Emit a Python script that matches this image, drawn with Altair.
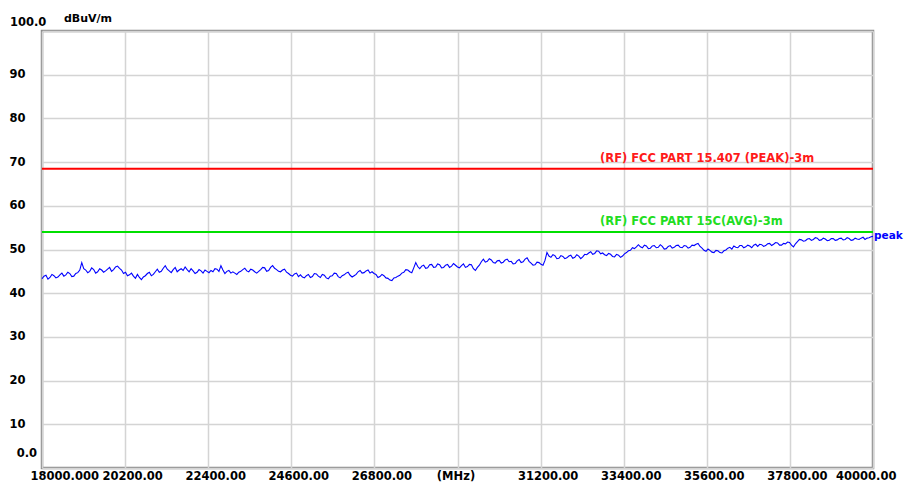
import altair as alt
import pandas as pd
import numpy as np

FREQ_START = 18000.0
FREQ_STOP = 40000.0

LEVELS = [
    43.3, 43.9, 44.1, 43.2, 43.6, 44.3, 44.0, 43.5, 43.7, 44.2, 44.6, 43.9, 44.2, 44.8, 44.5, 43.8, 43.9, 44.5, 44.7, 45.3,
    47.0, 45.6, 45.3, 44.7, 45.0, 45.8, 45.4, 44.6, 44.9, 45.6, 45.3, 44.8, 45.1, 45.5, 45.9, 45.0, 45.4, 46.0, 46.2, 45.7,
    45.3, 44.5, 44.8, 44.0, 44.2, 44.6, 43.9, 43.4, 44.3, 43.6, 43.1, 43.7, 44.0, 44.5, 44.8, 44.0, 44.3, 44.9, 45.5, 44.8,
    45.0, 45.7, 46.3, 45.5, 45.1, 44.7, 45.4, 45.9, 44.9, 45.3, 45.6, 45.2, 46.0, 45.4, 44.9, 45.6, 45.1, 44.5, 44.8, 45.4,
    45.1, 44.6, 45.3, 45.0, 44.7, 45.2, 44.9, 45.6, 45.5, 45.0, 46.3, 45.3, 44.5, 45.0, 45.2, 44.6, 44.9, 44.6, 44.3, 44.8,
    45.0, 45.4, 45.7, 45.1, 44.9, 45.5, 45.3, 44.9, 44.6, 45.0, 45.4, 45.9, 45.8, 45.0, 45.2, 45.9, 46.3, 45.7, 45.4, 45.0,
    44.9, 45.3, 45.5, 44.8, 44.5, 44.1, 43.9, 44.4, 44.6, 43.8, 44.2, 43.7, 43.5, 44.0, 44.3, 43.6, 43.8, 44.5, 44.4, 43.9,
    43.6, 44.3, 44.1, 43.5, 43.3, 43.9, 44.0, 44.6, 44.5, 43.8, 43.5, 44.0, 44.2, 44.6, 44.8, 44.1, 43.7, 44.0, 44.3, 44.9,
    45.2, 44.6, 44.7, 45.1, 45.3, 44.6, 44.9, 44.5, 44.3, 43.6, 43.8, 44.3, 44.0, 43.5, 43.4, 43.0, 42.9, 43.5, 43.6, 43.9,
    44.1, 44.6, 44.8, 45.4, 45.3, 44.9, 44.7, 45.8, 47.0, 46.1, 45.6, 46.2, 46.4, 45.7, 45.8, 46.5, 46.6, 45.9, 46.0, 46.7,
    46.5, 45.8, 45.9, 46.4, 46.6, 45.9, 46.2, 46.8, 46.4, 46.0, 45.8, 46.3, 46.7, 45.9, 46.1, 46.6, 46.5, 45.6, 45.2, 45.9,
    46.4, 47.2, 47.8, 47.1, 47.3, 47.9, 47.6, 47.0, 46.9, 47.4, 47.5, 46.9, 47.1, 47.6, 47.8, 47.2, 47.3, 46.7, 46.8, 47.4,
    47.7, 47.0, 47.2, 47.8, 48.1, 47.3, 46.9, 46.4, 46.5, 47.1, 47.0, 46.6, 46.4, 47.5, 49.3, 48.5, 48.2, 48.8, 48.6, 47.9,
    48.0, 48.6, 48.4, 47.9, 48.1, 48.5, 48.7, 48.0, 48.2, 48.8, 48.5, 47.9, 48.3, 48.9, 48.8, 49.2, 49.5, 48.9, 49.1, 49.7,
    49.6, 49.0, 49.2, 48.8, 48.6, 49.1, 48.9, 48.4, 48.3, 48.9, 48.7, 48.2, 48.5, 49.0, 49.3, 49.7, 49.8, 50.4, 50.2, 50.6,
    51.1, 50.6, 50.4, 51.0, 50.8, 50.2, 50.3, 50.8, 50.9, 50.4, 50.5, 51.1, 50.7, 50.1, 50.2, 50.7, 50.9, 50.3, 50.5, 50.9,
    51.0, 50.5, 50.4, 50.9, 50.8, 50.3, 50.5, 51.0, 50.9, 51.2, 51.4, 50.7, 50.3, 49.8, 49.6, 50.1, 49.8, 49.4, 49.3, 49.8,
    49.7, 49.3, 49.2, 49.7, 49.9, 50.3, 50.5, 50.1, 50.8, 50.5, 50.4, 50.9, 50.9, 50.4, 50.6, 51.0, 50.8, 50.4, 51.0, 51.2,
    50.7, 51.2, 51.1, 50.7, 50.9, 51.3, 51.4, 50.9, 51.2, 51.6, 51.5, 51.0, 51.0, 51.4, 51.3, 51.7, 51.6, 51.0, 50.6, 51.3,
    51.8, 52.3, 52.2, 51.9, 52.0, 52.4, 52.5, 52.1, 52.3, 52.7, 52.6, 52.1, 52.2, 52.6, 52.4, 52.0, 52.1, 52.5, 52.5, 52.1,
    52.2, 52.5, 52.6, 52.2, 52.3, 52.7, 52.5, 52.1, 52.2, 52.6, 52.4, 52.3, 52.6, 52.8, 52.3, 52.6, 52.7, 52.9, 53.0,
]

LIMIT_NAMES = ["(RF) FCC PART 15.407 (PEAK)-3m", "(RF) FCC PART 15C(AVG)-3m"]
LIMIT_VALUES = [68.5, 54.0]
LIMIT_COLORS = ["#ff0000", "#00e000"]
LIMIT_TEXT_COLORS = ["#ff1a1a", "#22dd22"]
LIMIT_LABEL_FREQ = 32773.0

X_TICKS = [18000, 20200, 22400, 24600, 26800, 29000, 31200, 33400, 35600, 37800, 40000]
Y_TICKS = [0, 10, 20, 30, 40, 50, 60, 70, 80, 90, 100]

FONT = "DejaVu Sans"
FS = 11.5

freq = np.linspace(FREQ_START, FREQ_STOP, len(LEVELS))
trace = pd.DataFrame({"freq": freq, "level": LEVELS})
limits = pd.DataFrame({
    "name": LIMIT_NAMES, "level": LIMIT_VALUES,
    "color": LIMIT_COLORS, "tcolor": LIMIT_TEXT_COLORS,
    "freq": [LIMIT_LABEL_FREQ] * len(LIMIT_NAMES),
})
peak_df = trace.tail(1).assign(label="peak")

xscale = alt.Scale(domain=[FREQ_START, FREQ_STOP], nice=False, zero=False)
yscale = alt.Scale(domain=[0, 100], nice=False)

xaxis = alt.Axis(
    values=X_TICKS, title=None, domain=False, ticks=False,
    grid=True, gridColor="#d4d4d4", gridWidth=1.5,
    labelExpr="datum.value == 29000 ? '(MHz)' : (datum.value == 18000 ? '18000.000' : format(datum.value, '.2f'))",
    labelAlign={"condition": [
        {"test": "datum.value == 18000", "value": "left"},
        {"test": "datum.value == 40000", "value": "right"},
    ], "value": "center"},
    labelOffset={"condition": [
        {"test": "datum.value == 18000", "value": -12},
        {"test": "datum.value == 29000", "value": -2},
        {"test": "datum.value == 40000", "value": 23},
    ], "value": 7},
    labelBaseline="top", labelPadding=2, labelOverlap=False, labelFlush=False,
    labelFont=FONT, labelFontSize=FS, labelFontWeight="bold", labelColor="black",
)
yaxis = alt.Axis(
    values=Y_TICKS, title=None, domain=False, ticks=False,
    grid=True, gridColor="#d4d4d4", gridWidth=1.5,
    labelExpr="(datum.value == 0 || datum.value == 100) ? '' : format(datum.value, 'd')",
    labelAlign="left", labelPadding=33, labelBaseline="middle",
    labelOverlap=False, labelFlush=False,
    labelFont=FONT, labelFontSize=FS, labelFontWeight="bold", labelColor="black",
)

base = alt.Chart(trace)

line = base.mark_line(color="#0000ff", strokeWidth=1.1).encode(
    x=alt.X("freq:Q", scale=xscale, axis=xaxis),
    y=alt.Y("level:Q", scale=yscale, axis=yaxis),
)

rules = alt.Chart(limits).mark_rule(strokeWidth=2).encode(
    y=alt.Y("level:Q", scale=yscale),
    color=alt.Color("color:N", scale=None),
)

limit_text = alt.Chart(limits).mark_text(
    align="left", baseline="middle", dy=-10, font=FONT, fontSize=FS, fontWeight="bold"
).encode(
    x=alt.X("freq:Q", scale=xscale),
    y=alt.Y("level:Q", scale=yscale),
    text="name:N",
    color=alt.Color("tcolor:N", scale=None),
)

peak_text = alt.Chart(peak_df).mark_text(
    align="left", baseline="middle", dx=1, font=FONT, fontSize=10.5, fontWeight="bold",
    color="#0000ff", clip=False,
).encode(
    x=alt.X("freq:Q", scale=xscale),
    y=alt.Y("level:Q", scale=yscale),
    text="label:N",
)

corner = pd.DataFrame({
    "freq": [FREQ_START, FREQ_START, FREQ_START],
    "level": [100, 0, 100],
    "label": ["100.0", "0.0", "dBuV/m"],
})
c100 = alt.Chart(corner.iloc[[0]]).mark_text(
    align="left", baseline="middle", dx=-32, dy=-8, font=FONT, fontSize=FS,
    fontWeight="bold", color="black", clip=False,
).encode(x=alt.X("freq:Q", scale=xscale), y=alt.Y("level:Q", scale=yscale), text="label:N")
c0 = alt.Chart(corner.iloc[[1]]).mark_text(
    align="right", baseline="middle", dx=-5, dy=-14, font=FONT, fontSize=FS,
    fontWeight="bold", color="black", clip=False,
).encode(x=alt.X("freq:Q", scale=xscale), y=alt.Y("level:Q", scale=yscale), text="label:N")
cunit = alt.Chart(corner.iloc[[2]]).mark_text(
    align="left", baseline="middle", dx=22, dy=-12, font=FONT, fontSize=FS - 0.5,
    fontWeight="bold", color="black", clip=False,
).encode(x=alt.X("freq:Q", scale=xscale), y=alt.Y("level:Q", scale=yscale), text="label:N")

chart = alt.layer(line, rules, limit_text, peak_text, c100, c0, cunit).properties(
    width=831, height=437,
    autosize=alt.AutoSizeParams(type="none"),
    padding={"left": 34, "top": 23, "right": 31, "bottom": 16},
    background="white",
).configure_view(stroke="#8a8a8a", strokeWidth=2.5)

chart.save("out.html", embed_options={"renderer": "svg", "actions": False})
